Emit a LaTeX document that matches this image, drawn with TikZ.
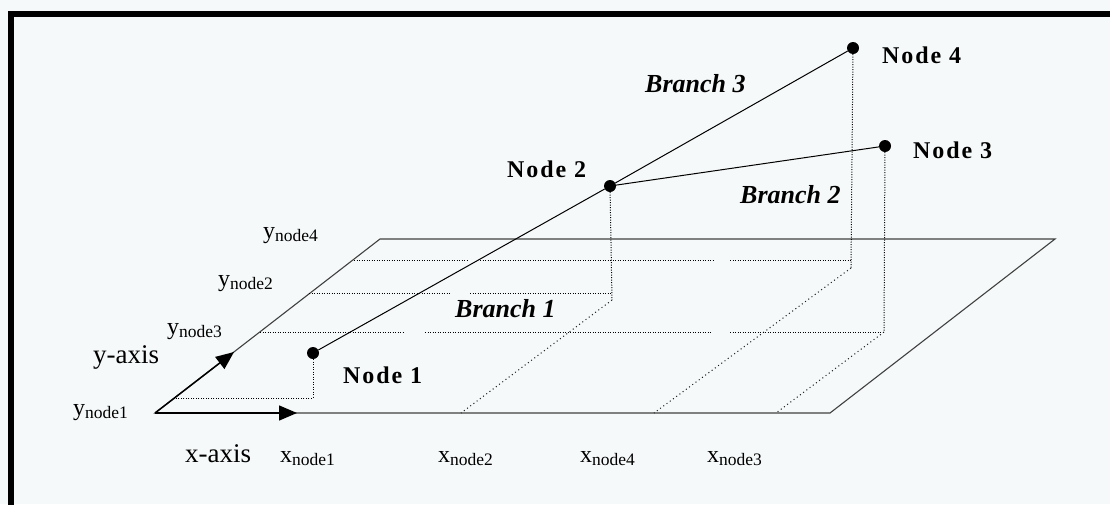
\documentclass[tikz,border=0pt]{standalone}
\usepackage{fontspec}
\setmainfont{Liberation Serif}
\newfontfamily\spacedfont[LetterSpace=8]{Liberation Serif}
\usetikzlibrary{arrows.meta}
\definecolor{bgcol}{HTML}{F6F9F9}
\newcommand\coordtext[2]{{\fontsize{24}{24}\selectfont #1}{\fontsize{17.5}{17.5}\selectfont\raisebox{-3pt}{#2}}}
\tikzset{
  planeedge/.style={draw=black!75, line width=1.1pt},
  branchline/.style={draw=black, line width=1pt},
  projline/.style={draw=black, line width=1pt, dash pattern=on 1pt off 1.5pt},
  diagline/.style={draw=black!90, line width=1pt, dash pattern=on 1pt off 3pt},
  dotnode/.style={circle, fill=black, inner sep=0pt, minimum size=12pt},
  nodelbl/.style={inner sep=0pt, anchor=base west, font=\spacedfont\bfseries\fontsize{24}{24}\selectfont},
  branchlbl/.style={inner sep=0pt, anchor=base west, font=\bfseries\itshape\fontsize{26}{26}\selectfont},
  axislbl/.style={inner sep=0pt, anchor=base west, font=\fontsize{27}{27}\selectfont},
  coordlbl/.style={inner sep=0pt, anchor=base west},
  axisarrow/.style={draw=black, line width=1.5pt, -{Triangle[length=18pt,width=15pt]}}
}
\begin{document}
\begin{tikzpicture}[x=1pt,y=-1pt]
\useasboundingbox (0,0) rectangle (1110,504);
\fill[bgcol] (0,0) rectangle (1110,504);
% frame
\draw[line width=5.5pt] (11,520) -- (11,14) -- (1130,14);

% plane corners
\coordinate (bl) at (155,413);
\coordinate (br) at (830,413);
\coordinate (tr) at (1055,239);
\coordinate (tl) at (380,239);
\draw[planeedge] (bl) -- (br) -- (tr) -- (tl) -- cycle;

% axes arrows
\coordinate (xtip) at (297,413);
\coordinate (ytip) at (234,352);
\draw[axisarrow] (bl) -- (xtip);
\draw[axisarrow] (bl) -- (ytip);

% nodes
\node[dotnode] (n1) at (313,353) {};
\node[dotnode] (n2) at (610,186) {};
\node[dotnode] (n3) at (885,146) {};
\node[dotnode] (n4) at (853,48) {};

% projection points
\coordinate (p1) at (313,398);
\coordinate (e1) at (174,398);
\coordinate (p2) at (612,293);
\coordinate (p2v) at (612,300);
\coordinate (e2) at (309,293);
\coordinate (b2) at (461,413);
\coordinate (p4) at (851,260);
\coordinate (p4v) at (851,268);
\coordinate (e4) at (354,260);
\coordinate (b4) at (654,413);
\coordinate (p3) at (884,332);
\coordinate (e3) at (260,332);
\coordinate (b3) at (776,413);

% dotted projections
\draw[projline] (n1) -- (p1) -- (e1);
\draw[projline] (n2) -- (p2v);
\draw[projline] (e2) -- (450,293) (470,293) -- (p2);
\draw[diagline] (p2v) -- (b2);
\draw[projline] (n4) -- (p4v);
\draw[projline] (e4) -- (467,260) (480,260) -- (715,260) (730,260) -- (p4);
\draw[diagline] (p4v) -- (b4);
\draw[projline] (n3) -- (p3);
\draw[projline] (e3) -- (405,332) (425,332) -- (712,332) (730,332) -- (p3);
\draw[diagline] (p3) -- (b3);

% branches
\draw[branchline] (n1) -- (n2);
\draw[branchline] (n2) -- (n3);
\draw[branchline] (n2) -- (n4);

% labels
\node[nodelbl] (l1) at (343,383) {Node 1};
\node[nodelbl] (l2) at (507,177) {Node 2};
\node[nodelbl] (l3) at (913,158) {Node 3};
\node[nodelbl] (l4) at (882,63) {Node 4};
\node[branchlbl] (bl1) at (455,317) {Branch 1};
\node[branchlbl] (bl2) at (740,203) {Branch 2};
\node[branchlbl] (bl3) at (645,92) {Branch 3};
\node[axislbl] (ya) at (93,363) {y-axis};
\node[axislbl] (xa) at (185,462) {x-axis};
\node[coordlbl] (y1) at (73,415) {\coordtext{y}{node1}};
\node[coordlbl] (y3) at (167,334) {\coordtext{y}{node3}};
\node[coordlbl] (y2) at (218,286) {\coordtext{y}{node2}};
\node[coordlbl] (y4) at (263,238) {\coordtext{y}{node4}};
\node[coordlbl] (x1) at (280,462) {\coordtext{x}{node1}};
\node[coordlbl] (x2) at (438,462) {\coordtext{x}{node2}};
\node[coordlbl] (x4) at (580,462) {\coordtext{x}{node4}};
\node[coordlbl] (x3) at (707,462) {\coordtext{x}{node3}};
\end{tikzpicture}
\end{document}
